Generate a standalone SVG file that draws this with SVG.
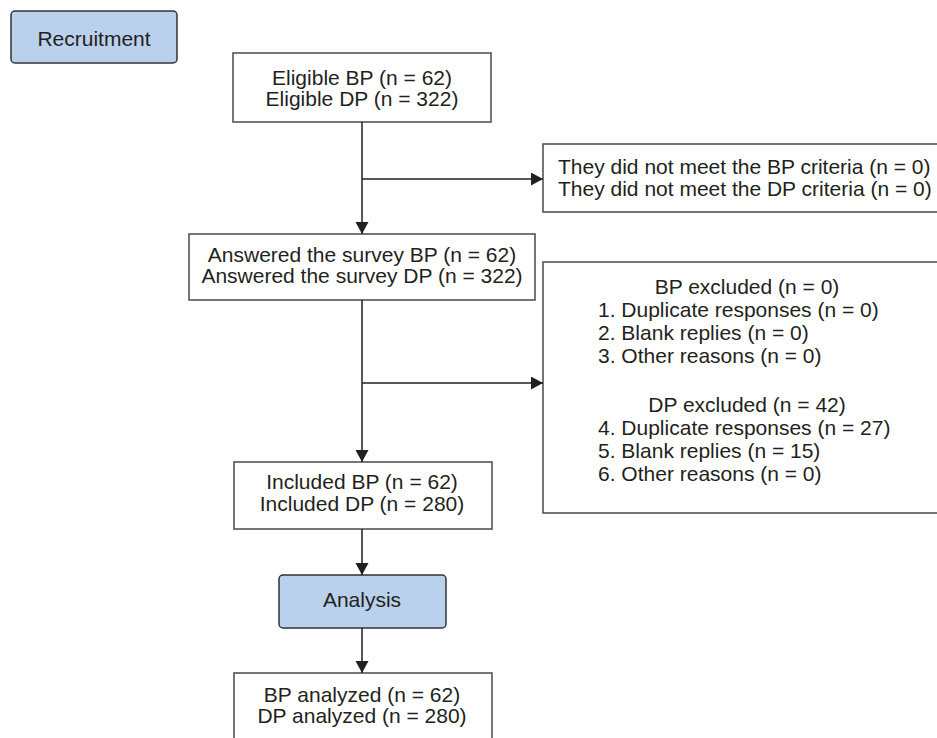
<svg xmlns="http://www.w3.org/2000/svg" width="937" height="738" viewBox="0 0 937 738">
<defs>
<style>
.box{fill:#fff;stroke:#4a4a4a;stroke-width:1.5}
.stage{fill:#b9d1ec;stroke:#333;stroke-width:1.5}
.t{font-family:"Liberation Sans",Arial,sans-serif;font-size:21px;fill:#231f20}
.c{text-anchor:middle}
.ln{stroke:#231f20;stroke-width:1.5;fill:none}
</style>
<marker id="ah" markerUnits="userSpaceOnUse" markerWidth="13" markerHeight="14" refX="12" refY="6.5" orient="auto">
<path d="M0,0 L12,6.5 L0,13 z" fill="#231f20"/>
</marker>
</defs>
<rect width="937" height="738" fill="#fff"/>
<g id="recruitment">
<rect class="stage" x="11" y="11" width="166" height="52" rx="4"/>
<text class="t c" x="94" y="46">Recruitment</text>
</g>
<g id="eligible">
<rect class="box" x="233" y="53" width="258" height="69"/>
<text class="t c" x="362" y="85">Eligible BP (n = 62)</text>
<text class="t c" x="362" y="106">Eligible DP (n = 322)</text>
</g>
<g id="notmeet">
<rect class="box" x="543" y="144" width="400" height="68"/>
<text class="t" x="558" y="174">They did not meet the BP criteria (n = 0)</text>
<text class="t" x="558" y="196">They did not meet the DP criteria (n = 0)</text>
</g>
<g id="answered">
<rect class="box" x="189" y="234" width="346" height="66"/>
<text class="t c" x="362" y="262">Answered the survey BP (n = 62)</text>
<text class="t c" x="362" y="283">Answered the survey DP (n = 322)</text>
</g>
<g id="excluded">
<rect class="box" x="543" y="262" width="400" height="251"/>
<text class="t c" x="747" y="294">BP excluded (n = 0)</text>
<text class="t" x="598" y="317">1. Duplicate responses (n = 0)</text>
<text class="t" x="598" y="340">2. Blank replies (n = 0)</text>
<text class="t" x="598" y="363">3. Other reasons (n = 0)</text>
<text class="t c" x="747" y="412">DP excluded (n = 42)</text>
<text class="t" x="598" y="435">4. Duplicate responses (n = 27)</text>
<text class="t" x="598" y="458">5. Blank replies (n = 15)</text>
<text class="t" x="598" y="481">6. Other reasons (n = 0)</text>
</g>
<g id="included">
<rect class="box" x="234" y="462" width="258" height="67"/>
<text class="t c" x="362" y="489">Included BP (n = 62)</text>
<text class="t c" x="362" y="511">Included DP (n = 280)</text>
</g>
<g id="analysis">
<rect class="stage" x="279" y="575" width="167" height="53" rx="4"/>
<text class="t c" x="362" y="607">Analysis</text>
</g>
<g id="analyzed">
<rect class="box" x="234" y="673" width="258" height="80"/>
<text class="t c" x="362" y="702">BP analyzed (n = 62)</text>
<text class="t c" x="362" y="723">DP analyzed (n = 280)</text>
</g>
<g id="connectors">
<line class="ln" x1="362" y1="122" x2="362" y2="234" marker-end="url(#ah)"/>
<line class="ln" x1="362" y1="179" x2="543" y2="179" marker-end="url(#ah)"/>
<line class="ln" x1="362" y1="300" x2="362" y2="462" marker-end="url(#ah)"/>
<line class="ln" x1="362" y1="383" x2="543" y2="383" marker-end="url(#ah)"/>
<line class="ln" x1="362" y1="529" x2="362" y2="575" marker-end="url(#ah)"/>
<line class="ln" x1="362" y1="628" x2="362" y2="673" marker-end="url(#ah)"/>
</g>
</svg>
